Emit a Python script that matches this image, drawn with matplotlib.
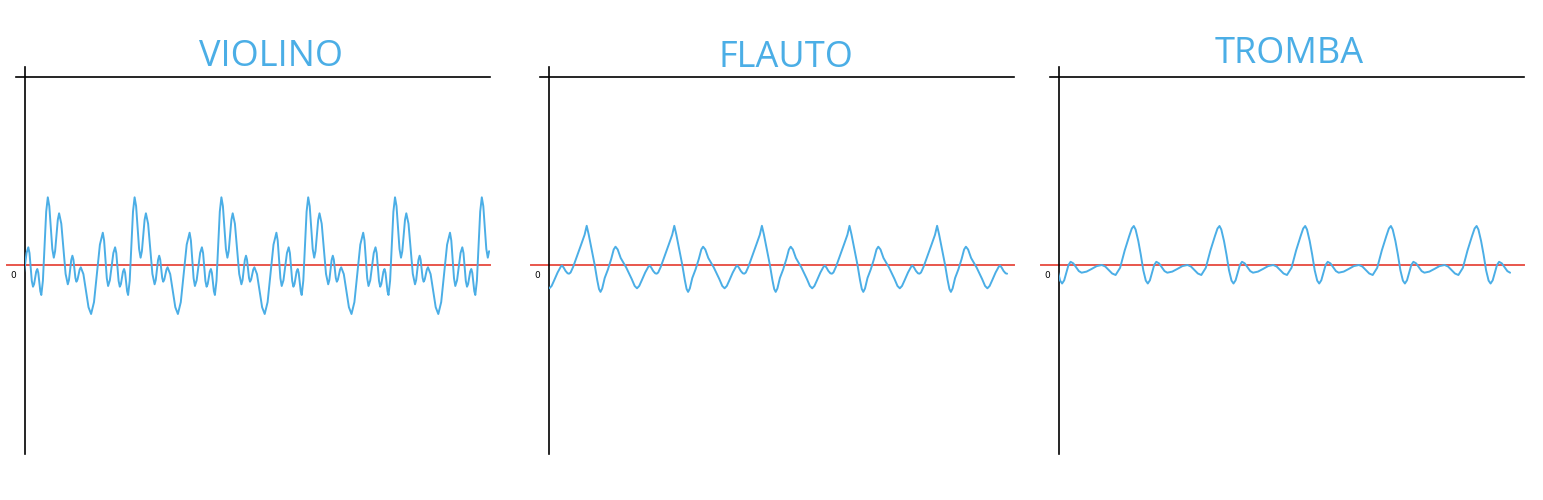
import matplotlib
matplotlib.use("Agg")
import matplotlib.pyplot as plt
import numpy as np

titles = ["VIOLINO", "FLAUTO", "TROMBA"]

# one period of each waveform:
# time inside the period (big peak at 0) and amplitude (0 = red line)
violin_period = 86.8
violin_t = [0, 1.5, 3, 4.5, 6.0, 7.3, 8.65, 10.0, 11.3, 13.5, 15.65, 17.8,
            20.0, 21.15, 22.3, 23.45, 24.6, 25.6, 26.6, 27.6, 28.6, 29.7, 30.8, 31.9,
            33.0, 35.6, 38.15, 40.7, 43.3, 46.2, 49.15, 52.1, 55.0, 56.3, 57.65, 59.0,
            60.3, 62.05, 63.8, 65.55, 67.3, 68.5, 69.65, 70.8, 72.0, 73.1, 74.15, 75.2,
            76.3, 77.3, 78.3, 79.3, 80.3, 81.9, 83.55, 85.2]
violin_v = [67.7, 58.9, 37.5, 16.1, 7.3, 13.8, 29.5, 45.2, 51.7, 41.3, 16.2, -8.9,
            -19.3, -15.1, -5.0, 5.1, 9.3, 5.5, -3.7, -12.9, -16.7, -14.6, -9.5, -4.4,
            -2.3, -9.1, -25.7, -42.2, -49.0, -37.1, -8.4, 20.4, 32.3, 24.5, 5.7, -13.2,
            -21.0, -15.3, -1.7, 12.0, 17.7, 11.9, -2.0, -15.9, -21.7, -19.1, -12.9, -6.6,
            -4.0, -7.8, -17.0, -26.2, -30.0, -15.7, 18.9, 53.4]

flute_period = 87.6
flute_t = [0, 2, 5, 8, 10.5, 12.3, 13.8, 15.5, 18, 21.3, 24.5, 27,
           28.8, 31, 34, 39.5, 45, 48, 50.3, 52.5, 55, 58.5, 61.5,
           62.9, 64.5, 66.5, 68.5, 70.0, 71.5, 74, 78, 82, 85.5]
flute_v = [39.2, 30.5, 15, 0, -15, -24, -26.9, -23.5, -13, -4.3, 6, 15.5,
           18.3, 15.5, 7, -2.5, -14, -21, -23.3, -21, -15.5, -7.5, -2,
           -0.5, -2.5, -6, -8.3, -8.7, -7.5, -2, 9, 20.3, 30.2]

trumpet_period = 85.7
trumpet_t = [0, 1.8, 4.5, 7, 9.5, 12, 14, 16.1, 18.25, 20.4, 22.5, 25.25, 28, 30.75,
             33.5, 38.5, 43.6, 48.6, 53.7, 57.15, 60.6, 64.05, 67.5, 72, 76.6, 81.15, 83.7]
trumpet_v = [39, 35.5, 24.0, 10.3, -5.3, -15.6, -18.5, -15.3, -7.7, 0, 3.2, 1.6, -2.3, -6.1,
             -7.7, -6.6, -3.9, -1.1, 0, -1.5, -5, -8.5, -10, -2.8, 14.5, 29.0, 36.5]

# visible time window (start at the vertical axis, end of the trace)
starts = [-22.8, -37.7, -74.8]
ends = [442.2, 421.6, 377.0]

BLUE = "#4BAEE6"
RED = "#E8564C"
W, H = 1543, 500


def tile(t, v, period, start, stop):
    t = np.asarray(t, dtype=float)
    v = np.asarray(v, dtype=float)
    k0 = int(np.floor(start / period)) - 1
    k1 = int(np.ceil(stop / period)) + 1
    tt = np.concatenate([t + k * period for k in range(k0, k1)])
    vv = np.tile(v, k1 - k0)
    m = (tt >= start - 2) & (tt <= stop)
    return tt[m], vv[m]


fig = plt.figure(figsize=(W / 100, H / 100), dpi=100)

data = [(violin_t, violin_v, violin_period),
        (flute_t, flute_v, flute_period),
        (trumpet_t, trumpet_v, trumpet_period)]
spine_x = [25, 549, 1059]
title_x = [271, 786, 1289]
title_base = [66, 67, 63]
axes_w = 465
y_top, y_bot, y_zero, y_line = 67, 454, 265, 77

for i in range(3):
    left = spine_x[i]
    ax = fig.add_axes([left / W, 1 - y_bot / H, axes_w / W, (y_bot - y_top) / H])
    ax.set_xlim(starts[i], starts[i] + axes_w)
    ax.set_ylim(y_zero - y_bot, y_zero - y_top)
    ax.axis("off")

    t, v, p = data[i]
    tt, vv = tile(t, v, p, starts[i], ends[i])
    ax.plot(tt, vv, color=BLUE, lw=1.4, solid_capstyle="round", zorder=3)

    # zero line and axes drawn by hand
    ax.axhline(0, xmin=-18 / axes_w, xmax=1, color=RED, lw=1.4, clip_on=False, zorder=2)
    ax.plot([0, 0], [0, 1], transform=ax.transAxes, color="black", lw=1.2, clip_on=False)
    yl = (y_bot - y_line) / (y_bot - y_top)
    ax.plot([-9 / axes_w, 1], [yl, yl], transform=ax.transAxes, color="black",
            lw=1.2, clip_on=False)
    ax.annotate("0", xy=(0, 0), xycoords=ax.get_yaxis_transform(),
                xytext=(-12 * 0.72, -10 * 0.72), textcoords="offset points",
                ha="center", va="center", fontsize=6.5, color="black")

    fig.text(title_x[i] / W, 1 - title_base[i] / H, titles[i], ha="center",
             va="baseline", fontsize=26, color=BLUE, family="Open Sans")

fig.savefig("out.png", dpi=100, facecolor="white")
